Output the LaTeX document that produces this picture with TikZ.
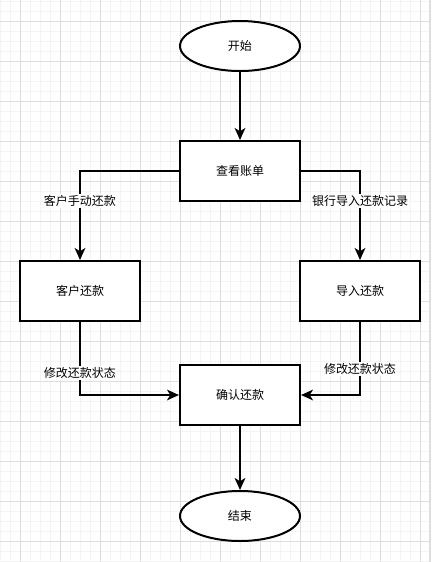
\documentclass[tikz,border=0pt]{standalone}
\usepackage{fontspec}
\setmainfont{Noto Sans CJK SC}
\usetikzlibrary{shapes.geometric,arrows.meta}
\definecolor{gridmajor}{HTML}{DEDEDE}
\definecolor{gridminor}{HTML}{F4F4F4}
\tikzset{
  px/.style={x=0.75pt,y=-0.75pt},
  stepbox/.style={draw=black,line width=1.5pt,fill=white,rectangle,minimum width=90pt,minimum height=45pt,inner sep=0pt,font=\fontsize{9pt}{11pt}\selectfont},
  termbox/.style={draw=black,line width=1.5pt,fill=white,ellipse,minimum width=90pt,minimum height=37.5pt,inner sep=0pt,font=\fontsize{9pt}{11pt}\selectfont},
  arr/.style={line width=1.5pt,-{Stealth[length=9pt,width=8pt,inset=2.5pt]}},
  lbl/.style={fill=white,inner sep=1pt,font=\fontsize{9pt}{11pt}\selectfont}
}
\begin{document}
\begin{tikzpicture}[px]
\useasboundingbox (0,0) rectangle (433,562);
\fill[white] (0,0) rectangle (433,562);
% minor grid
\foreach \x in {0.5,10.5,...,429} \draw[gridminor,line width=0.75pt] (\x,0) -- (\x,562);
\foreach \y in {1.5,11.5,...,562} \draw[gridminor,line width=0.75pt] (0,\y) -- (429,\y);
% major grid
\foreach \x in {20.5,60.5,...,429} \draw[gridmajor,line width=0.75pt] (\x,0) -- (\x,562);
\foreach \y in {21.5,61.5,...,562} \draw[gridmajor,line width=0.75pt] (0,\y) -- (429,\y);
\draw[gridmajor,line width=1pt] (430,0) -- (430,562);

\node[termbox] (start) at (240,46) {开始};
\node[stepbox] (view) at (240,171) {查看账单};
\node[stepbox] (cust) at (80,291) {客户还款};
\node[stepbox] (imp) at (360,291) {导入还款};
\node[stepbox] (conf) at (240,395) {确认还款};
\node[termbox] (end) at (240,516) {结束};

\draw[arr] (start) -- (view);
\draw[arr] (view.west) -| node[lbl,pos=0.67]{客户手动还款} (cust.north);
\draw[arr] (view.east) -| node[lbl,pos=0.67]{银行导入还款记录} (imp.north);
\draw[arr] (cust.south) |- node[lbl,pos=0.35]{修改还款状态} (conf.west);
\draw[arr] (imp.south) |- node[lbl,pos=0.32]{修改还款状态} (conf.east);
\draw[arr] (conf) -- (end);
\end{tikzpicture}
\end{document}
